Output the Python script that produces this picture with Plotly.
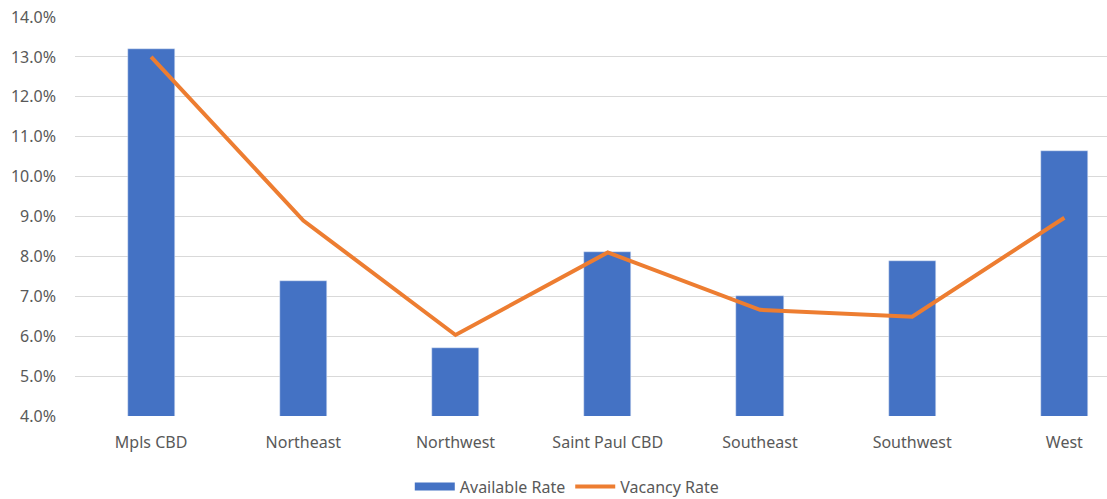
import plotly.graph_objects as go

# Submarket categories and rates (percent)
submarkets = ["Mpls CBD", "Northeast", "Northwest", "Saint Paul CBD",
              "Southeast", "Southwest", "West"]
available_rate = [13.2, 7.38, 5.70, 8.10, 7.0, 7.89, 10.63]
vacancy_rate = [13.0, 8.9, 6.03, 8.1, 6.66, 6.49, 8.97]
y_ticks = [4, 5, 6, 7, 8, 9, 10, 11, 12, 13, 14]
y_tick_text = [f"{v:.1f}%" for v in y_ticks]

BLUE = "#4472C4"
ORANGE = "#ED7D31"
GREY_TEXT = "#595959"
FONT = "Noto Sans"

fig = go.Figure()
fig.add_trace(go.Bar(
    x=list(range(len(submarkets))), y=available_rate, base=0,
    name="Available Rate", marker_color=BLUE, width=0.31,
    showlegend=False,
))
# legend key for the bars: a wide flat swatch
fig.add_trace(go.Scatter(
    x=[None], y=[None], mode="lines", name="Available Rate",
    line=dict(color=BLUE, width=8),
))
fig.add_trace(go.Scatter(
    x=list(range(len(submarkets))), y=vacancy_rate, mode="lines",
    name="Vacancy Rate", line=dict(color=ORANGE, width=4),
))

fig.update_layout(
    width=1107, height=499,
    margin=dict(l=75, r=0, t=17, b=83, autoexpand=False),
    paper_bgcolor="white", plot_bgcolor="white",
    font=dict(family=FONT, color=GREY_TEXT, size=16),
    showlegend=True,
    legend=dict(orientation="h", xref="container", x=0.512, xanchor="center",
                yref="container", y=0.025, yanchor="middle",
                font=dict(size=16, color=GREY_TEXT),
                itemwidth=40, tracegroupgap=0),
    bargap=0,
)
fig.update_xaxes(
    range=[-0.5, 6.28], automargin=False,
    tickmode="array", tickvals=list(range(len(submarkets))), ticktext=submarkets,
    showgrid=False, zeroline=False, showline=False, ticks="",
    tickfont=dict(size=16, color=GREY_TEXT), ticklabelstandoff=15,
)
fig.update_yaxes(
    range=[4, 14], automargin=False,
    tickmode="array", tickvals=y_ticks, ticktext=y_tick_text,
    showgrid=True, gridcolor="#D9D9D9", gridwidth=1,
    zeroline=False, showline=False, ticks="",
    tickfont=dict(size=16, color=GREY_TEXT), ticklabelstandoff=18,
)

fig.write_html("out.html")
